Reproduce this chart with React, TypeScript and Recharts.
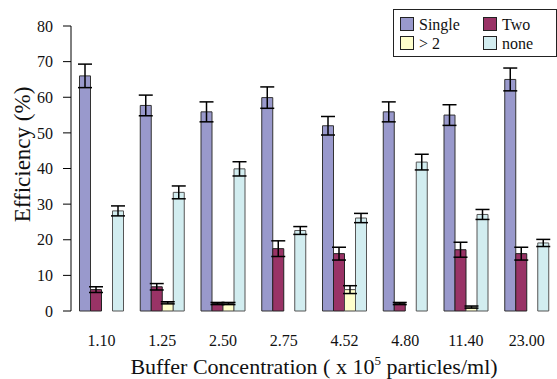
import {
  BarChart,
  Bar,
  XAxis,
  YAxis,
  Legend,
  ErrorBar,
} from 'recharts';

const categories = ['1.10', '1.25', '2.50', '2.75', '4.52', '4.80', '11.40', '23.00'];
const single = [66, 57.7, 55.9, 59.9, 52, 55.9, 55, 65];
const singleErr = [3.3, 2.9, 2.8, 3, 2.6, 2.8, 2.9, 3.2];
const two = [6, 6.8, 2.1, 17.5, 16.1, 2.1, 17.2, 16.1];
const twoErr = [0.8, 0.9, 0.3, 2.2, 1.8, 0.3, 2.1, 1.8];
const more = [0, 2.3, 2.1, 0, 6, 0, 1.1, 0];
const moreErr = [0, 0.3, 0.3, 0, 1.1, 0, 0.3, 0];
const none = [28.1, 33.3, 39.9, 22.6, 26.1, 41.8, 27.1, 19.1];
const noneErr = [1.4, 1.8, 2, 1.1, 1.3, 2.2, 1.4, 1];

const majorTicks = [0, 10, 20, 30, 40, 50, 60, 70, 80];
const minorTicks = Array.from({ length: 41 }, (_, i) => i * 2);
const frameTicks = [0, 1, 2, 3, 4, 5, 6, 7, 8];

// no serif face resolves in the sandbox, so fall back to the Arial-metric one
const FONT = "'Liberation Serif', 'Liberation Sans', Arial, sans-serif";

const series = [
  { key: 'single', name: 'Single', color: '#9999cc', stroke: '#333' },
  { key: 'two', name: 'Two', color: '#993366', stroke: '#222' },
  { key: 'more', name: '> 2', color: '#ffffcc', stroke: '#444' },
  { key: 'none', name: 'none', color: '#d2edf0', stroke: '#555' },
];

const data = categories.map((c, i) => ({
  cat: c,
  single: single[i],
  singleErr: singleErr[i],
  two: two[i],
  twoErr: twoErr[i],
  more: more[i],
  moreErr: moreErr[i],
  none: none[i],
  noneErr: noneErr[i],
}));

function LegendBox() {
  const cells = [
    { s: series[0], x: 7, y: 8 },
    { s: series[1], x: 90, y: 8 },
    { s: series[2], x: 7, y: 27 },
    { s: series[3], x: 90, y: 27 },
  ];
  return (
    <svg width={164} height={48} style={{ display: 'block' }}>
      <rect x={0.5} y={0.5} width={163} height={47} fill="#fff" stroke="#222" />
      {cells.map(({ s, x, y }) => (
        <g key={s.key}>
          <rect x={x + 0.5} y={y + 0.5} width={13} height={13} fill={s.color} stroke="#222" />
          <text x={x + 19} y={y + 13} fontSize={16} fill="#111">
            {s.name}
          </text>
        </g>
      ))}
    </svg>
  );
}

export default function App() {
  return (
    <div style={{ width: 557, height: 379, background: '#fff', fontFamily: FONT }}>
      <style>{'body{margin:0} svg text{font-family:' + FONT + '}'}</style>
      <BarChart
        width={557}
        height={379}
        data={data}
        margin={{ top: 26, right: 0, left: 0, bottom: 0 }}
        barCategoryGap="14%"
        barGap={0}
      >
        <XAxis
          xAxisId="frame"
          type="number"
          domain={[0, 8]}
          ticks={frameTicks}
          height={0}
          tickSize={6}
          tickFormatter={() => ''}
          stroke="#000"
          allowDataOverflow
        />
        <XAxis
          xAxisId="cat"
          dataKey="cat"
          height={68}
          axisLine={false}
          tickLine={false}
          tickSize={0}
          tickMargin={24}
          tick={{ fill: '#111', fontSize: 16 }}
          interval={0}
          label={({ viewBox }: any) => (
            <text
              x={viewBox.x + viewBox.width / 2}
              y={viewBox.y + 63}
              textAnchor="middle"
              fontSize={22}
              fill="#111"
            >
              Buffer Concentration ( x 10
              <tspan dy={-9} fontSize={13}>5</tspan>
              <tspan dy={9}> particles/ml)</tspan>
            </text>
          )}
        />
        <YAxis
          yAxisId="y"
          width={71}
          domain={[0, 80]}
          ticks={majorTicks}
          tickSize={8}
          tickMargin={10}
          stroke="#000"
          tick={{ fill: '#111', fontSize: 16 }}
          label={({ viewBox }: any) => {
            const cy = viewBox.y + viewBox.height / 2 - 14;
            return (
              <text
                x={30}
                y={cy}
                transform={`rotate(-90, 30, ${cy})`}
                textAnchor="middle"
                fontSize={23}
                fill="#111"
              >
                Efficiency (%)
              </text>
            );
          }}
        />
        <YAxis
          yAxisId="minor"
          mirror
          width={0}
          domain={[0, 80]}
          ticks={minorTicks}
          tickSize={4}
          axisLine={false}
          tickFormatter={() => ''}
          stroke="#000"
          allowDataOverflow
        />
        <Legend
          layout="vertical"
          verticalAlign="middle"
          align="center"
          wrapperStyle={{ top: 9, left: 393, width: 164, height: 48 }}
          content={() => <LegendBox />}
        />
        {series.map((s) => (
          <Bar
            key={s.key}
            xAxisId="cat"
            yAxisId="y"
            dataKey={s.key}
            name={s.name}
            fill={s.color}
            stroke={s.stroke}
            strokeWidth={1}
            isAnimationActive={false}
          >
            <ErrorBar dataKey={`${s.key}Err`} width={7} stroke="#000" strokeWidth={1.5} />
          </Bar>
        ))}
      </BarChart>
    </div>
  );
}
